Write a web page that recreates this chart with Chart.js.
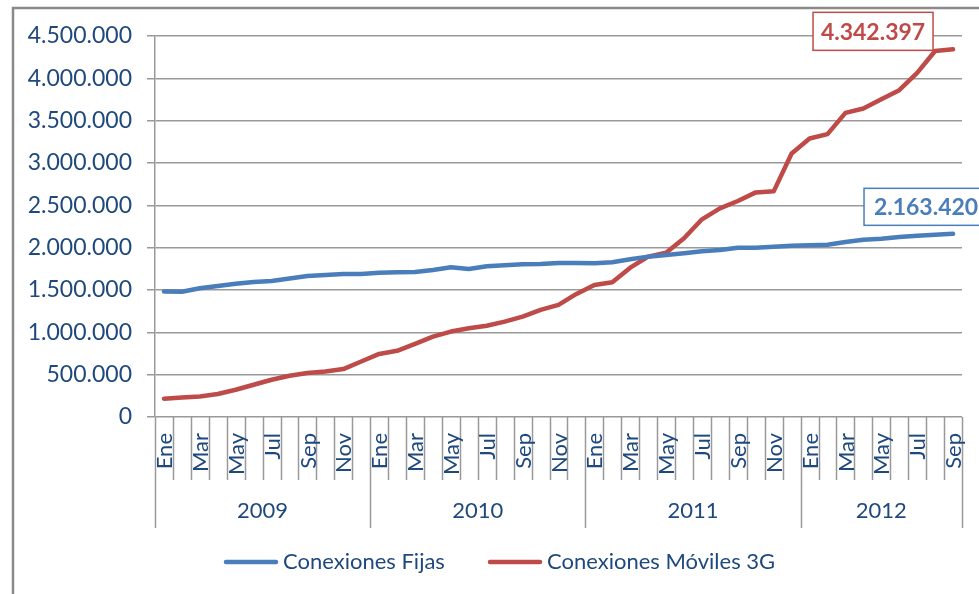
<!DOCTYPE html>
<html lang="es">
<head>
  <meta charset="UTF-8">
  <title>Conexiones Fijas y Móviles 3G</title>
  <script src="https://cdn.jsdelivr.net/npm/chart.js"></script>
  <style>
    body {
      margin: 0;
      background: #ffffff;
    }
    #chart {
      display: block;
    }
  </style>
</head>
<body>
  <canvas id="chart" width="979" height="594"></canvas>

  <script>
    // categories
    const months = ["Ene", "Feb", "Mar", "Abr", "May", "Jun", "Jul", "Ago", "Sep", "Oct", "Nov", "Dic"];
    const years = ["2009", "2010", "2011", "2012"];
    const monthsInLastYear = 9; // data ends in Sep 2012

    // series
    const fijas = [
      1481000, 1480000, 1521000, 1548000, 1575000, 1595000, 1607000, 1635000, 1666000, 1678000, 1690000, 1690000,
      1705000, 1710000, 1713000, 1737000, 1769000, 1749000, 1780000, 1792000, 1804000, 1808000, 1820000, 1820000,
      1816000, 1828000, 1863000, 1894000, 1914000, 1934000, 1958000, 1973000, 2000000, 2000000, 2012000, 2022000,
      2030000, 2035000, 2068000, 2093000, 2106000, 2126000, 2141000, 2153000, 2163420
    ];
    const moviles = [
      216000, 231000, 243000, 271000, 322000, 381000, 440000, 487000, 519000, 538000, 566000, 656000,
      745000, 782000, 864000, 950000, 1009000, 1049000, 1077000, 1127000, 1186000, 1265000, 1324000, 1454000,
      1560000, 1592000, 1764000, 1894000, 1941000, 2111000, 2335000, 2465000, 2551000, 2653000, 2665000, 3113000,
      3290000, 3341000, 3592000, 3644000, 3753000, 3860000, 4064000, 4323000, 4342397
    ];

    // y axis ticks
    const yMin = 0;
    const yMax = 4500000;
    const yStep = 500000;

    const seriesNames = ["Conexiones Fijas", "Conexiones Móviles 3G"];
    const blue = "#4a7ebb";
    const red = "#be4b48";
    const textColor = "#1f497d";
    const gridColor = "#999999";
    const fontFamily = "Lato, 'Open Sans', sans-serif";

    // build the month/year category list
    const labels = [];
    const yearOfLabel = [];
    years.forEach(function(y, yi) {
      const count = yi === years.length - 1 ? monthsInLastYear : months.length;
      for (let m = 0; m < count; m++) {
        labels.push(months[m]);
        yearOfLabel.push(y);
      }
    });

    function fmt(v) {
      return String(Math.round(v)).replace(/\B(?=(\d{3})+(?!\d))/g, ".");
    }

    // draws the two-level category axis, legend, value boxes and frame
    const decorations = {
      id: "decorations",
      afterDraw(chart) {
        const ctx = chart.ctx;
        const area = chart.chartArea;
        const x = chart.scales.x;
        const n = labels.length;
        const w = (area.right - area.left) / n;

        ctx.save();
        ctx.strokeStyle = gridColor;
        ctx.lineWidth = 1.5;

        // tick lines between months, longer ones between years
        for (let i = 0; i <= n; i++) {
          const px = Math.round(area.left + i * w) + 0.5;
          const yearEdge = i === n || i % 12 === 0;
          ctx.beginPath();
          ctx.moveTo(px, area.bottom);
          ctx.lineTo(px, area.bottom + (yearEdge ? 111 : 63));
          ctx.stroke();
        }

        // month labels (every other month), rotated
        ctx.fillStyle = textColor;
        ctx.font = "22px " + fontFamily;
        for (let i = 0; i < n; i += 2) {
          const cx = x.getPixelForValue(i) + 1;
          ctx.save();
          ctx.translate(cx, area.bottom + 16);
          ctx.rotate(-Math.PI / 2);
          ctx.textAlign = "right";
          ctx.textBaseline = "middle";
          ctx.fillText(labels[i], 0, 0);
          ctx.restore();
        }

        // year labels
        ctx.textAlign = "center";
        ctx.textBaseline = "middle";
        years.forEach(function(y) {
          const first = yearOfLabel.indexOf(y);
          const last = yearOfLabel.lastIndexOf(y);
          const cx = area.left + ((first + last + 1) / 2) * w;
          ctx.fillText(y, cx, area.bottom + 94);
        });

        // legend
        const legendY = 562;
        const items = [
          { name: seriesNames[0], color: blue, x: 226 },
          { name: seriesNames[1], color: red, x: 490 }
        ];
        ctx.textAlign = "left";
        items.forEach(function(it) {
          ctx.strokeStyle = it.color;
          ctx.lineWidth = 4.5;
          ctx.lineCap = "round";
          ctx.beginPath();
          ctx.moveTo(it.x, legendY);
          ctx.lineTo(it.x + 50, legendY);
          ctx.stroke();
          ctx.fillStyle = textColor;
          ctx.fillText(it.name, it.x + 57, legendY);
        });

        // value boxes on the last points
        const boxes = [
          { ds: 1, color: red, dx: -80, dy: -18, w: 120, h: 38 },
          { ds: 0, color: blue, dx: -27, dy: -27, w: 124, h: 37 }
        ];
        ctx.font = "bold 23px " + fontFamily;
        ctx.lineCap = "butt";
        boxes.forEach(function(b) {
          const pts = chart.getDatasetMeta(b.ds).data;
          const p = pts[pts.length - 1];
          const data = chart.data.datasets[b.ds].data;
          const cx = p.x + b.dx;
          const cy = p.y + b.dy;
          ctx.fillStyle = "#ffffff";
          ctx.fillRect(cx - b.w / 2, cy - b.h / 2, b.w, b.h);
          ctx.strokeStyle = b.color;
          ctx.lineWidth = 1.5;
          ctx.strokeRect(cx - b.w / 2, cy - b.h / 2, b.w, b.h);
          ctx.fillStyle = b.color;
          ctx.textAlign = "center";
          ctx.fillText(fmt(data[data.length - 1]), cx, cy + 1);
        });

        // outer frame (left and top edges visible)
        ctx.strokeStyle = "#8a8a8a";
        ctx.lineWidth = 2.5;
        ctx.beginPath();
        ctx.moveTo(13, chart.height);
        ctx.lineTo(13, 8);
        ctx.lineTo(chart.width, 8);
        ctx.stroke();

        ctx.restore();
      }
    };

    new Chart(document.getElementById("chart"), {
      type: "line",
      data: {
        labels: labels,
        datasets: [
          {
            label: seriesNames[0],
            data: fijas,
            borderColor: blue,
            backgroundColor: blue,
            borderWidth: 4.5,
            pointRadius: 0,
            tension: 0,
            borderJoinStyle: "round",
            borderCapStyle: "round"
          },
          {
            label: seriesNames[1],
            data: moviles,
            borderColor: red,
            backgroundColor: red,
            borderWidth: 4.5,
            pointRadius: 0,
            tension: 0,
            borderJoinStyle: "round",
            borderCapStyle: "round"
          }
        ]
      },
      options: {
        responsive: false,
        devicePixelRatio: 1,
        animation: false,
        layout: {
          padding: { top: 36, right: 17, bottom: 177, left: 0 }
        },
        plugins: {
          legend: { display: false },
          tooltip: { enabled: false }
        },
        scales: {
          x: {
            type: "category",
            display: false,
            offset: true
          },
          y: {
            min: yMin,
            max: yMax,
            ticks: {
              stepSize: yStep,
              color: textColor,
              font: { family: fontFamily, size: 23 },
              padding: 15,
              callback: function(v) { return fmt(v); }
            },
            grid: {
              color: gridColor,
              lineWidth: 1.5,
              tickLength: 8
            },
            border: {
              color: gridColor,
              width: 1.5
            },
            afterFit: function(scale) {
              scale.width = 155;
            }
          }
        }
      },
      plugins: [decorations]
    });
  </script>
</body>
</html>
